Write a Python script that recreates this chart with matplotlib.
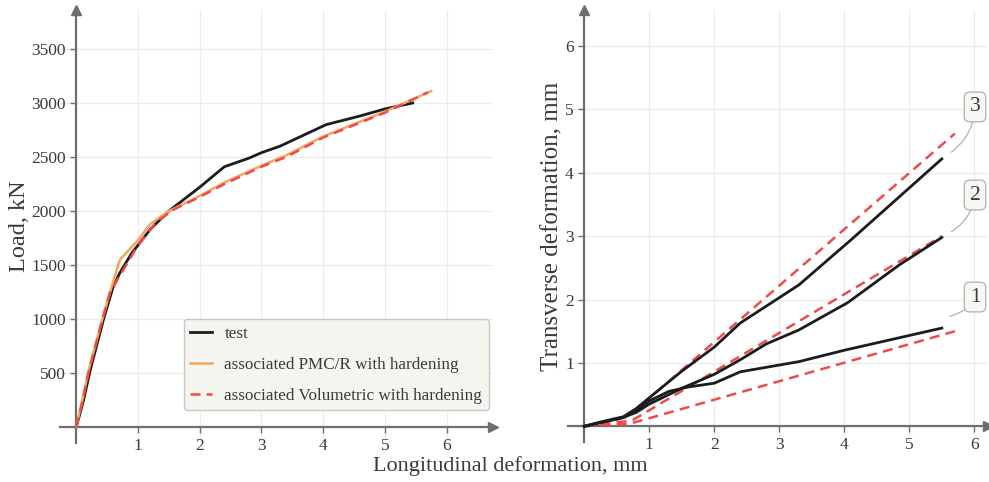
import matplotlib
matplotlib.use("Agg")
import matplotlib.pyplot as plt

plt.rcParams['font.family'] = ['Liberation Serif', 'DejaVu Serif']

# ---------------- Left panel data (Load vs longitudinal deformation) ----------------
test_x = [0, 0.05, 0.12, 0.23, 0.44, 0.6, 0.71, 0.9, 1.2, 1.5, 2.0, 2.4, 2.8, 3.0, 3.3, 4.05, 4.6, 5.0, 5.45]
test_y = [0, 100, 250, 530, 990, 1300, 1430, 1610, 1830, 2000, 2220, 2410, 2490, 2540, 2600, 2800, 2880, 2945, 3000]

pmc_x = [0, 0.1, 0.2, 0.4, 0.55, 0.71, 1.0, 1.2, 1.5, 2.0, 2.4, 3.0, 3.4, 4.0, 5.0, 5.75]
pmc_y = [0, 250, 520, 950, 1250, 1550, 1730, 1880, 2000, 2140, 2265, 2420, 2515, 2690, 2920, 3110]

vol_x = [0, 0.1, 0.2, 0.4, 0.55, 0.8, 1.0, 1.3, 1.6, 2.0, 2.4, 3.0, 3.4, 4.0, 5.0, 5.7]
vol_y = [0, 230, 500, 940, 1250, 1490, 1680, 1900, 2020, 2130, 2250, 2410, 2500, 2680, 2910, 3100]

left_xticks = [1, 2, 3, 4, 5, 6]
left_yticks = [500, 1000, 1500, 2000, 2500, 3000, 3500]
legend_labels = ["test", "associated PMC/R with hardening", "associated Volumetric with hardening"]

# ---------------- Right panel data (transverse vs longitudinal) ----------------
t3_x = [0, 0.3, 0.6, 0.8, 1.0, 1.5, 2.0, 2.4, 3.3, 4.1, 5.5]
t3_y = [0, 0.08, 0.15, 0.28, 0.45, 0.87, 1.25, 1.63, 2.23, 2.94, 4.22]
t2_x = [0, 0.3, 0.6, 0.8, 1.0, 1.5, 2.0, 2.4, 2.8, 3.3, 4.05, 4.85, 5.5]
t2_y = [0, 0.07, 0.14, 0.22, 0.35, 0.6, 0.82, 1.05, 1.3, 1.52, 1.95, 2.55, 2.98]
t1_x = [0, 0.3, 0.6, 0.8, 1.0, 1.3, 1.6, 2.0, 2.4, 3.3, 4.0, 5.5]
t1_y = [0, 0.07, 0.14, 0.25, 0.4, 0.55, 0.62, 0.68, 0.86, 1.02, 1.2, 1.55]

v3_x = [0, 0.35, 0.65, 0.75, 5.7]
v3_y = [0, 0.05, 0.15, 0.22, 4.62]
v2_x = [0, 0.35, 0.65, 0.75, 5.5]
v2_y = [0, 0.04, 0.08, 0.1, 3.0]
v1_x = [0, 0.3, 0.7, 5.7]
v1_y = [0, 0.02, 0.04, 1.5]

right_ticks = [1, 2, 3, 4, 5, 6]
curve_labels = ["3", "2", "1"]
label_pos = [(6.01, 5.04), (6.01, 3.65), (6.01, 2.04)]
label_target = [(5.61, 4.30), (5.61, 3.05), (5.58, 1.73)]

BLACK = '#1c1c1c'
ORANGE = '#f5a65b'
RED = '#ee4b4b'
AXC = '#6e6e6e'
GRID = '#ececec'
TXT = '#3a3a3a'

fig = plt.figure(figsize=(9.89, 4.82), dpi=100)
W, H = 989, 482


def make_axes(l, r, b, t):
    return fig.add_axes([l / W, (H - b) / H, (r - l) / W, (b - t) / H])


def style(ax, xt, yt):
    for s in ['top', 'right']:
        ax.spines[s].set_visible(False)
    for s in ['left', 'bottom']:
        ax.spines[s].set_position(('data', 0))
        ax.spines[s].set_color(AXC)
        ax.spines[s].set_linewidth(1.6)
    ax.set_xticks(xt)
    ax.set_yticks(yt)
    ax.tick_params(axis='both', colors=AXC, labelcolor=TXT, labelsize=12.5,
                   length=4, width=1, direction='out')
    ax.grid(True, color=GRID, linewidth=0.9)
    ax.set_axisbelow(True)
    ax.plot(1, 0, '>', color=AXC, markersize=7, transform=ax.get_yaxis_transform(), clip_on=False)
    ax.plot(0, 1, '^', color=AXC, markersize=7, transform=ax.get_xaxis_transform(), clip_on=False)


# Left
ax1 = make_axes(60, 493, 443, 10)
ax1.set_xlim(-0.26, 6.75)
ax1.set_ylim(-145, 3860)
style(ax1, left_xticks, left_yticks)
ax1.plot(test_x, test_y, color=BLACK, lw=2.0, label=legend_labels[0], zorder=3)
ax1.plot(pmc_x, pmc_y, color=ORANGE, lw=1.8, label=legend_labels[1], zorder=4)
ax1.plot(vol_x, vol_y, color=RED, lw=1.8, ls=(0, (4, 2.5)), label=legend_labels[2], zorder=5)
ax1.set_ylabel("Load, kN", fontsize=17.5, color=TXT)
ax1.yaxis.set_label_coords(-0.07, 0.5)
leg = ax1.legend(loc='lower right', bbox_to_anchor=(0.99, 0.076), borderaxespad=0,
                 frameon=True, fancybox=True, fontsize=12.3, labelspacing=0.88,
                 handlelength=1.3, handletextpad=0.7, borderpad=0.38)
leg.get_frame().set_facecolor('#f4f5ef')
leg.get_frame().set_edgecolor('#c8c8c8')
leg.get_frame().set_alpha(1)
for t in leg.get_texts():
    t.set_color(TXT)

# Right
ax2 = make_axes(568, 988, 442, 10)
ax2.set_xlim(-0.25, 6.21)
ax2.set_ylim(-0.248, 6.57)
style(ax2, right_ticks, right_ticks)
for xs, ys in [(v3_x, v3_y), (v2_x, v2_y), (v1_x, v1_y)]:
    ax2.plot(xs, ys, color=RED, lw=1.8, ls=(0, (4, 2.5)), zorder=3)
for xs, ys in [(t3_x, t3_y), (t2_x, t2_y), (t1_x, t1_y)]:
    ax2.plot(xs, ys, color=BLACK, lw=2.0, zorder=4)
ax2.set_ylabel("Transverse deformation, mm", fontsize=18, color=TXT)
ax2.yaxis.set_label_coords(-0.012, 0.5)

for lab, p, tg in zip(curve_labels, label_pos, label_target):
    ax2.annotate(lab, xy=tg, xytext=p, ha='center', va='center', fontsize=15.5, color=TXT,
                 bbox=dict(boxstyle='round,pad=0.25', fc='#f7f7f3', ec='#b0b0b0', lw=0.9),
                 arrowprops=dict(arrowstyle='-', color='#b0b0b0', lw=0.9,
                                 connectionstyle='arc3,rad=-0.25', shrinkA=0, shrinkB=2),
                 annotation_clip=False, zorder=6)

fig.text(510 / W, (H - 466) / H, "Longitudinal deformation, mm", ha='center', va='center',
         fontsize=16, color=TXT)

fig.savefig("out.png", dpi=100)
